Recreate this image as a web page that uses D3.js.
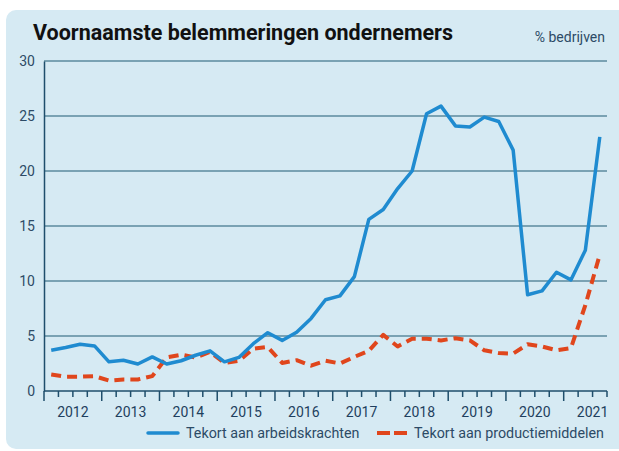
<!DOCTYPE html>
<html>
<head>
<meta charset="utf-8">
<script src="https://cdn.jsdelivr.net/npm/d3@7"></script>
<style>
  body { margin: 0; background: #fff; }
  svg { display: block; font-family: Roboto, "Noto Sans", sans-serif; }
</style>
</head>
<body>
<svg id="chart"></svg>
<script>
// Quarterly series, 2012 Q1 .. 2021 Q3
const startYear = 2012;
const years = [2012, 2013, 2014, 2015, 2016, 2017, 2018, 2019, 2020, 2021];
const yTicks = [0, 5, 10, 15, 20, 25, 30];

const arbeidskrachten = [
  3.7, 3.95, 4.25, 4.1, 2.65, 2.8, 2.45, 3.1, 2.45, 2.75,
  3.25, 3.65, 2.65, 3.05, 4.3, 5.3, 4.6, 5.35, 6.6, 8.3,
  8.65, 10.4, 15.6, 16.5, 18.4, 20.0, 25.2, 25.9, 24.1, 24.0,
  24.9, 24.5, 21.9, 8.75, 9.1, 10.8, 10.1, 12.8, 23.1
];
const productiemiddelen = [
  1.5, 1.3, 1.3, 1.35, 0.95, 1.05, 1.05, 1.35, 3.05, 3.3,
  3.05, 3.55, 2.55, 2.75, 3.85, 4.0, 2.55, 2.8, 2.3, 2.75,
  2.5, 3.1, 3.65, 5.1, 4.05, 4.75, 4.75, 4.6, 4.8, 4.6,
  3.7, 3.45, 3.4, 4.25, 4.05, 3.7, 3.9, 7.8, 12.4
];

const W = 619, H = 451;
const margin = { top: 61, right: 12, bottom: 60, left: 44 };
const width = W - margin.left - margin.right;
const height = H - margin.top - margin.bottom;

const svg = d3.select("#chart").attr("width", W).attr("height", H);

// panel background
svg.append("rect")
  .attr("x", 6).attr("y", 10)
  .attr("width", W + 20).attr("height", H - 12)
  .attr("rx", 10)
  .attr("fill", "#d6eaf3");

svg.append("text")
  .attr("x", 33).attr("y", 40)
  .attr("font-size", 21.5).attr("font-weight", 700)
  .attr("fill", "#111")
  .text("Voornaamste belemmeringen ondernemers");

svg.append("text")
  .attr("x", 605).attr("y", 42)
  .attr("text-anchor", "end")
  .attr("font-size", 14)
  .attr("fill", "#2d4b66")
  .text("% bedrijven");

const g = svg.append("g").attr("transform", `translate(${margin.left},${margin.top})`);

const nQ = arbeidskrachten.length;
const x = d3.scaleLinear().domain([0, nQ]).range([0, width]);
const y = d3.scaleLinear().domain([0, 30]).range([height, 0]);

// gridlines
g.append("g")
  .selectAll("line")
  .data(yTicks.slice(1))
  .join("line")
  .attr("x1", 0).attr("x2", width)
  .attr("y1", d => y(d)).attr("y2", d => y(d))
  .attr("stroke", "#1f5a74").attr("stroke-width", 1.2);

// y axis
const yAxis = g.append("g")
  .call(d3.axisLeft(y).tickValues(yTicks).tickSize(0).tickPadding(9));
yAxis.select(".domain").attr("stroke", "#1f4e6b").attr("stroke-width", 1.5);
yAxis.selectAll("text")
  .attr("font-size", 14).attr("fill", "#2d4b66")
  .attr("font-family", "Roboto, sans-serif");

// x axis with quarter ticks
const xAxis = g.append("g").attr("transform", `translate(0,${height})`);
xAxis.append("line")
  .attr("x1", 0).attr("x2", width)
  .attr("stroke", "#1f4e6b").attr("stroke-width", 1.5);
xAxis.selectAll("line.tick")
  .data(d3.range(0, nQ + 1))
  .join("line")
  .attr("class", "tick")
  .attr("x1", d => x(d)).attr("x2", d => x(d))
  .attr("y1", 0).attr("y2", d => d % 4 === 0 ? 10 : 6)
  .attr("stroke", "#1f4e6b").attr("stroke-width", 1.5);
xAxis.selectAll("text")
  .data(years)
  .join("text")
  .attr("x", d => x((d - startYear) * 4 + 2))
  .attr("y", 26)
  .attr("text-anchor", "middle")
  .attr("font-size", 14).attr("fill", "#1f3f5e")
  .text(d => d);

const line = d3.line()
  .x((d, i) => x(i + 0.5))
  .y(d => y(d));

g.append("path")
  .datum(productiemiddelen)
  .attr("d", line)
  .attr("fill", "none")
  .attr("stroke", "#e0461c").attr("stroke-width", 4)
  .attr("stroke-dasharray", "10,6")
  .attr("stroke-linejoin", "round");

g.append("path")
  .datum(arbeidskrachten)
  .attr("d", line)
  .attr("fill", "none")
  .attr("stroke", "#1f8bd0").attr("stroke-width", 3.5)
  .attr("stroke-linejoin", "round");

// legend
const legend = svg.append("g").attr("transform", "translate(0,433)");
legend.append("line")
  .attr("x1", 148).attr("x2", 178)
  .attr("stroke", "#1f8bd0").attr("stroke-width", 3.5).attr("stroke-linecap", "round");
legend.append("text")
  .attr("x", 186).attr("y", 5)
  .attr("font-size", 14.3).attr("fill", "#2d4b66")
  .text("Tekort aan arbeidskrachten");
legend.append("line")
  .attr("x1", 377).attr("x2", 407)
  .attr("stroke", "#e0461c").attr("stroke-width", 4)
  .attr("stroke-dasharray", "13,4");
legend.append("text")
  .attr("x", 414).attr("y", 5)
  .attr("font-size", 14.3).attr("fill", "#2d4b66")
  .text("Tekort aan productiemiddelen");
</script>
</body>
</html>
